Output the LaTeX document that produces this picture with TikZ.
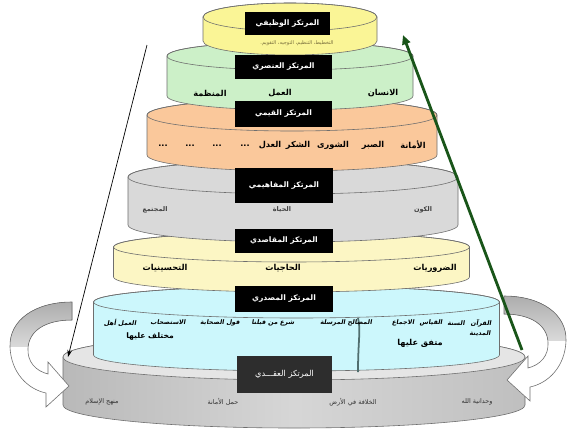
\documentclass[tikz,border=0pt]{standalone}
\usepackage{fontspec}
\newfontfamily\ar[Script=Arabic]{DejaVu Sans}
\newfontfamily\arsl[Script=Arabic,FakeSlant=0.18]{DejaVu Sans}
\TeXXeTstate=1
\usetikzlibrary{arrows.meta}
\definecolor{cyltop}{RGB}{250,245,150}
\definecolor{cylgreen}{RGB}{204,240,200}
\definecolor{cylorange}{RGB}{250,200,155}
\definecolor{cylgrey}{RGB}{217,217,217}
\definecolor{cylyellow}{RGB}{252,246,196}
\definecolor{cylcyan}{RGB}{204,247,252}
\definecolor{edgegray}{RGB}{110,110,110}
\definecolor{darkgreenA}{RGB}{25,85,25}
\definecolor{olivetxt}{RGB}{120,110,60}
\definecolor{boxdark}{RGB}{45,45,45}
\definecolor{sepline}{RGB}{80,110,110}
\newcommand\AR[1]{\beginR #1\endR}
\newcommand\mycyl[6]{%
  \filldraw[cylline, fill=#6] (#1-#3,-#2) -- (#1-#3,-#2-#5)
    arc[start angle=180,end angle=360,x radius=#3,y radius=#4]
    -- (#1+#3,-#2)
    arc[start angle=0,end angle=180,x radius=#3,y radius=#4] -- cycle;
  \draw[cylline] (#1,-#2) ellipse [x radius=#3, y radius=#4];
}
\def\larrowpath{(72,-302) .. controls (35,-302) and (9,-320) .. (10,-347)
  .. controls (11,-372) and (27,-389) .. (46,-393) -- (46,-407) -- (69,-386)
  -- (48,-362) -- (48,-374) .. controls (36,-371) and (27,-362) .. (28,-348)
  .. controls (29,-331) and (45,-320) .. (72,-320) -- cycle}
\newcommand\curvedarrow{%
  \fill[white] \larrowpath;
  \begin{scope}
    \clip \larrowpath;
    \fill[top color=gray!70, bottom color=gray!30] (0,-295) rectangle (80,-346);
  \end{scope}
  \draw[edgegray, line width=0.5pt] \larrowpath;
}
\begin{document}
\begin{tikzpicture}[x=0.03cm,y=0.03cm,
  cylline/.style={draw=edgegray, line width=0.5pt},
  box/.style={fill=black, text=white, inner sep=0pt, font=\ar\bfseries\fontsize{6.5}{7}\selectfont},
  lab/.style={inner sep=0pt, font=\ar\bfseries\fontsize{7}{8}\selectfont},
  labs/.style={inner sep=0pt, text=black!80, font=\ar\fontsize{5.5}{6}\selectfont},
  labg/.style={inner sep=0pt, text=black!75, font=\ar\bfseries\fontsize{5.5}{6}\selectfont},
  labc/.style={inner sep=0pt, font=\arsl\bfseries\fontsize{5.4}{6}\selectfont},
  blackarrow/.style={line width=0.6pt, -{Stealth[length=6pt,width=4pt]}},
  greenarrow/.style={line width=2.4pt, darkgreenA, -{Triangle[length=8pt,width=7pt]}}]
\useasboundingbox (0,0) rectangle (568,-438);
\fill[white] (0,0) rectangle (568,-438);

% bottom cylinder (shaded)
\shade[left color=gray!55, right color=gray!50, middle color=gray!32]
  (294-231,-357) -- (294-231,-357-48)
  arc[start angle=180,end angle=360,x radius=231,y radius=23]
  -- (294+231,-357)
  arc[start angle=0,end angle=180,x radius=231,y radius=23] -- cycle;
\draw[cylline] (294-231,-357) -- (294-231,-357-48)
  arc[start angle=180,end angle=360,x radius=231,y radius=23]
  -- (294+231,-357)
  arc[start angle=0,end angle=180,x radius=231,y radius=23] -- cycle;
\filldraw[cylline, fill=gray!20] (294,-357) ellipse [x radius=231, y radius=23];

% stacked cylinders, bottom to top
\mycyl{296.5}{302}{203}{16}{53}{cylcyan}
\mycyl{291.5}{247}{178}{15}{30}{cylyellow}
\mycyl{293}{177}{165}{17}{48}{cylgrey}
\mycyl{292}{115}{145}{16}{40}{cylorange}
\mycyl{290}{56}{123}{14}{40}{cylgreen}
\mycyl{290}{17}{87}{14}{24}{cyltop}

% separator in the source layer
\draw[line width=1.5pt, sepline] (358,-318) .. controls (361,-330) and (358,-340) .. (358,-372);

% curved block arrows
\curvedarrow
\begin{scope}[shift={(576,6)}, xscale=-1]
  \curvedarrow
\end{scope}

% boxes
\node[box, minimum width=2.55cm, minimum height=0.69cm] (b1) at (287.5,-23.5) {\AR{المرتكز الوظيفي}};
\node[box, minimum width=2.91cm, minimum height=0.72cm] (b2) at (283.5,-67) {\AR{المرتكز العنصري}};
\node[box, minimum width=2.91cm, minimum height=0.78cm] (b3) at (283.5,-114) {\AR{المرتكز القيمي}};
\node[box, minimum width=2.94cm, minimum height=1.05cm] (b4) at (284,-185.5) {\AR{المرتكز المفاهيمي}};
\node[box, minimum width=2.94cm, minimum height=0.72cm] (b5) at (284,-241) {\AR{المرتكز المقاصدي}};
\node[box, minimum width=2.94cm, minimum height=0.78cm] (b6) at (284,-299) {\AR{المرتكز المصدري}};
\node[box, fill=boxdark, minimum width=2.85cm, minimum height=1.11cm, font=\ar\fontsize{7}{8}\selectfont] (b7) at (284.5,-374.5) {\AR{المرتكز العقـــدي}};

% top layer subtitle
\node[inner sep=0pt, text=olivetxt, font=\ar\fontsize{4.3}{5}\selectfont] (t0) at (297,-43) {\AR{التخطيط، التنظيم، التوجيه، التقويم.}};

% green layer
\node[lab] (g1t) at (383,-93) {\AR{الانسان}};
\node[lab] (g2t) at (280,-93) {\AR{العمل}};
\node[lab] (g3t) at (210,-93) {\AR{المنظمة}};

% orange layer
\node[lab] (o1) at (413,-145) {\AR{الأمانة}};
\node[lab] (o2) at (373,-145) {\AR{الصبر}};
\node[lab] (o3) at (333,-145) {\AR{الشورى}};
\node[lab] (o4) at (298,-145) {\AR{الشكر}};
\node[lab] (o5) at (270,-145) {\AR{العدل}};
\node[lab] (o6) at (245,-146) {...};
\node[lab] (o7) at (217,-146) {...};
\node[lab] (o8) at (190,-146) {...};
\node[lab] (o9) at (163,-146) {...};

% grey layer
\node[labg] (c1) at (423,-210) {\AR{الكون}};
\node[labg] (c2) at (282,-210) {\AR{الحياة}};
\node[labg] (c3) at (155,-210) {\AR{المجتمع}};

% light yellow layer
\node[lab] (m1) at (435,-268) {\AR{الضروريات}};
\node[lab] (m2) at (283,-268) {\AR{الحاجيات}};
\node[lab] (m3) at (165,-268) {\AR{التحسينيات}};

% cyan layer
\node[labc] (s1) at (481,-323) {\AR{القرآن}};
\node[labc] (s2) at (456,-323) {\AR{السنة}};
\node[labc] (s3) at (431,-323) {\AR{القياس}};
\node[labc] (s4) at (403,-323) {\AR{الاجماع}};
\node[labc] (s5) at (346,-323) {\AR{المصالح المرسلة}};
\node[labc] (s6) at (273,-323) {\AR{شرع من قبلنا}};
\node[labc] (s7) at (220,-323) {\AR{قول الصحابة}};
\node[labc] (s8) at (168,-323) {\AR{الاستصحاب}};
\node[labc] (s9) at (120,-323) {\AR{العمل أهل}};
\node[labc] (s10) at (480,-334) {\AR{المدينة}};
\node[lab, font=\ar\bfseries\fontsize{7}{8}\selectfont] (s11) at (420,-343) {\AR{متفق عليها}};
\node[lab, font=\ar\bfseries\fontsize{6.5}{7}\selectfont] (s12) at (150,-337) {\AR{مختلف عليها}};

% bottom layer
\node[labs] (d1) at (102,-402) {\AR{منهج الإسلام}};
\node[labs] (d2) at (223,-402) {\AR{حمل الأمانة}};
\node[labs] (d3) at (353,-402) {\AR{الخلافة في الأرض}};
\node[labs] (d4) at (477,-402) {\AR{وحدانية الله}};

% straight arrows
\coordinate (k1) at (147,-45);
\coordinate (k2) at (68,-357);
\draw[blackarrow] (k1) -- (k2);
\coordinate (n1) at (522,-350);
\coordinate (n2) at (403,-35);
\draw[greenarrow] (n1) -- (n2);
\end{tikzpicture}
\end{document}
